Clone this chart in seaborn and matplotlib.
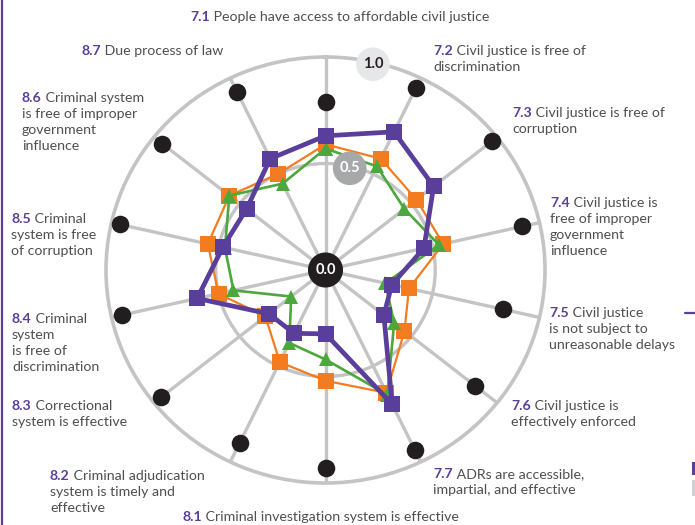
import numpy as np
import pandas as pd
import seaborn as sns
import matplotlib.pyplot as plt

# Data
categories = ["7.1", "7.2", "7.3", "7.4", "7.5", "7.6", "7.7",
              "8.1", "8.2", "8.3", "8.4", "8.5", "8.6", "8.7"]
country = [0.63, 0.72, 0.63, 0.46, 0.31, 0.34, 0.70,
           0.30, 0.33, 0.33, 0.60, 0.48, 0.46, 0.58]
region = [0.59, 0.58, 0.53, 0.55, 0.39, 0.46, 0.64,
          0.52, 0.48, 0.35, 0.50, 0.55, 0.56, 0.50]
income = [0.57, 0.54, 0.46, 0.53, 0.28, 0.40, 0.65,
          0.42, 0.38, 0.20, 0.43, 0.47, 0.56, 0.45]
top = [0.79, 0.95, 0.97, 0.92, 0.83, 0.87, 0.94,
       0.93, 0.90, 0.96, 0.95, 0.96, 0.95, 0.93]

labels = {
    "7.1": ["People have access to affordable civil justice"],
    "7.2": ["Civil justice is free of", "discrimination"],
    "7.3": ["Civil justice is free of", "corruption"],
    "7.4": ["Civil justice is", "free of improper", "government", "influence"],
    "7.5": ["Civil justice", "is not subject to", "unreasonable delays"],
    "7.6": ["Civil justice is", "effectively enforced"],
    "7.7": ["ADRs are accessible,", "impartial, and effective"],
    "8.1": ["Criminal investigation system is effective"],
    "8.2": ["Criminal adjudication", "system is timely and", "effective"],
    "8.3": ["Correctional", "system is effective"],
    "8.4": ["Criminal", "system", "is free of", "discrimination"],
    "8.5": ["Criminal", "system is free", "of corruption"],
    "8.6": ["Criminal system", "is free of improper", "government", "influence"],
    "8.7": ["Due process of law"],
}

PURPLE = "#5a3e9b"
ORANGE = "#f47c20"
GREEN = "#4ca83d"
BLACK = "#221e1f"
GRID = "#c4c4c6"
TEXT = "#4f4f51"

n = len(categories)
theta = np.arange(n) * 2 * np.pi / n
closed = np.append(theta, theta[0])

df = pd.DataFrame({
    "theta": np.tile(closed, 3),
    "score": country + country[:1] + region + region[:1] + income + income[:1],
    "series": ["country"] * (n + 1) + ["region"] * (n + 1) + ["income"] * (n + 1),
})

sns.set_theme(style="white")
plt.rcParams["font.family"] = ["Lato", "DejaVu Sans"]

W, H = 695, 525
fig = plt.figure(figsize=(W / 100, H / 100), dpi=100)
ax = fig.add_axes([106 / W, 1 - 483 / H, 439 / W, 426 / H], projection="polar")
ax.set_aspect("auto")
ax.set_theta_zero_location("N")
ax.set_theta_direction(-1)
ax.set_ylim(0, 1.0)

ax.set_xticks(theta)
ax.set_xticklabels([])
ax.set_yticks([0.5])
ax.set_yticklabels([])
ax.grid(True, color=GRID, linewidth=2.4)
ax.spines["polar"].set_color(GRID)
ax.spines["polar"].set_linewidth(2.6)

styles = {
    "region": dict(color=ORANGE, lw=1.6, marker="s", ms=11),
    "income": dict(color=GREEN, lw=1.9, marker="^", ms=10.5),
    "country": dict(color=PURPLE, lw=3.4, marker="s", ms=11.5),
}
for name in ["region", "income", "country"]:
    s = styles[name]
    sub = df[df["series"] == name]
    sns.lineplot(data=sub, x="theta", y="score", sort=False, ax=ax,
                 color=s["color"], linewidth=s["lw"], marker=s["marker"],
                 markersize=s["ms"], markeredgewidth=0, estimator=None,
                 zorder=5 if name == "country" else 4)

sns.scatterplot(x=theta, y=top, ax=ax, color=BLACK, s=160, linewidth=0,
                zorder=6, clip_on=False)
ax.set_xlabel("")
ax.set_ylabel("")

# scale badges
badge = dict(ha="center", va="center", fontsize=10.5, fontweight="bold",
             zorder=8, clip_on=False)
ax.text(0, 0, "0.0", color="white",
        bbox=dict(boxstyle="circle,pad=0.5", fc=BLACK, ec="none"), **badge)
ax.text(np.deg2rad(13), 0.49, "0.5", color="white",
        bbox=dict(boxstyle="circle,pad=0.45", fc="#a7a8aa", ec="none"), **badge)
ax.text(np.deg2rad(12.6), 0.99, "1.0", color="#231f20",
        bbox=dict(boxstyle="circle,pad=0.45", fc="#e6e7e8", ec="none"), **badge)

# axis labels: (x, y of first line centre) in pixels
label_pos = {
    "7.1": (190, 17), "7.2": (433, 51), "7.3": (512, 113), "7.4": (550, 203),
    "7.5": (549, 313), "7.6": (511, 406), "7.7": (433, 474), "8.1": (182, 517),
    "8.2": (50, 476), "8.3": (12, 406), "8.4": (12, 319), "8.5": (11, 219),
    "8.6": (22, 98), "8.7": (81, 51),
}
FS = 10.2
LINE = 16
renderer = fig.canvas.get_renderer()
for cat in categories:
    x, y = label_pos[cat]
    num = fig.text(x / W, 1 - y / H, cat, color=PURPLE, fontweight="bold",
                   fontsize=FS, ha="left", va="center")
    bb = num.get_window_extent(renderer)
    lines = labels[cat]
    fig.text(bb.x1 / W, 1 - y / H, " " + lines[0], color=TEXT, fontsize=FS,
             ha="left", va="center")
    for k, line in enumerate(lines[1:], 1):
        fig.text(x / W, 1 - (y + LINE * k) / H, line, color=TEXT, fontsize=FS,
                 ha="left", va="center")

# page edge decorations
fig.add_artist(plt.Line2D([2 / W, 2 / W], [0, 1], color=PURPLE, lw=1.6))
fig.add_artist(plt.Line2D([685 / W, 1], [1 - 313 / H, 1 - 313 / H], color=PURPLE, lw=1.6))
fig.add_artist(plt.Rectangle((692 / W, 1 - 475 / H), 3 / W, 13 / H,
                             color=PURPLE, lw=0))
fig.add_artist(plt.Rectangle((692 / W, 1 - 496 / H), 3 / W, 16 / H,
                             color="#d0d0d2", lw=0))

fig.savefig("out.png", dpi=100)
